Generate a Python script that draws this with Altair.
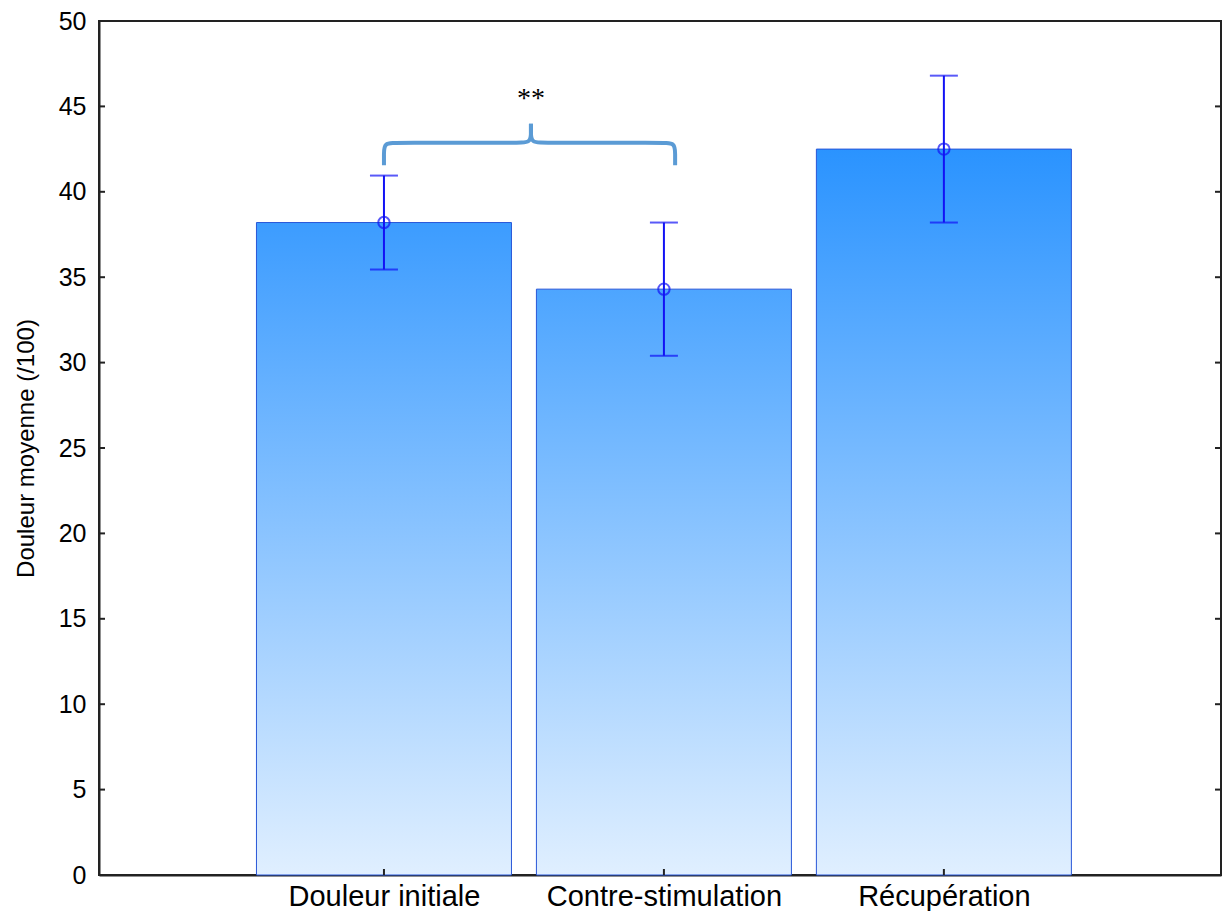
import altair as alt
import pandas as pd

categories = ["Douleur initiale", "Contre-stimulation", "Récupération"]
positions = [1, 2, 3]
means = [38.2, 34.3, 42.5]
lower = [35.45, 30.4, 38.2]
upper = [40.95, 38.2, 46.8]
y_ticks = list(range(0, 51, 5))

# brace annotation (data units): left half and right half control points
brace_left_x = [1.0, 1.0, 1.0, 1.045, 1.475, 1.525, 1.525, 1.525]
brace_right_x = [2.04, 2.04, 2.04, 1.995, 1.575, 1.525, 1.525, 1.525]
brace_y = [41.55, 42.2, 42.87, 42.87, 42.87, 42.87, 43.5, 43.98]
signif_label = "**"

df = pd.DataFrame({"cat": categories, "pos": positions, "mean": means,
                   "lo": lower, "hi": upper})
ticks_df = pd.DataFrame({"t": y_ticks})
brace_df = pd.DataFrame({
    "x": brace_left_x + brace_right_x,
    "y": brace_y + brace_y,
    "half": ["L"] * len(brace_y) + ["R"] * len(brace_y),
    "ord": list(range(len(brace_y))) * 2,
})

W, H = 1122, 854
xs = alt.Scale(domain=[0, 3.972], nice=False, zero=False)
ys = alt.Scale(domain=[0, 50], nice=False)

label_arr = "[" + ",".join("'" + c + "'" for c in categories) + "]"
x_axis = alt.Axis(values=positions, labelExpr=label_arr + "[datum.value-1]",
                  ticks=False, grid=False, title=None, labelFontSize=29,
                  labelFont="Liberation Sans", labelColor="#000",
                  labelPadding=7, domainColor="#222", domainWidth=2,
                  labelFlush=False, labelLimit=0, labelOverlap=False)
y_axis = alt.Axis(values=y_ticks, ticks=False, grid=False,
                  title="Douleur moyenne (/100)", titleFontSize=24,
                  titleFont="Liberation Sans", titleFontWeight="normal",
                  titleColor="#000", titlePadding=20,
                  labelFontSize=25, labelFont="Liberation Sans",
                  labelColor="#000", labelPadding=13, labelLimit=0,
                  labelFlush=False,
                  domainColor="#222", domainWidth=2)


def X(f):
    return alt.X(f, scale=xs, axis=x_axis)


def Y(f):
    return alt.Y(f, scale=ys, axis=y_axis)


bottom_rgb = (224, 239, 255)
top_rgb = (42, 147, 255)
vmax = max(means)


def col_at(v):
    f = v / vmax
    c = [round(b + (t - b) * f) for b, t in zip(bottom_rgb, top_rgb)]
    return "#%02x%02x%02x" % tuple(c)


layers = []
for p, m in zip(positions, means):
    grad = alt.LinearGradient(
        gradient="linear", x1=0, y1=0, x2=0, y2=1,
        stops=[alt.GradientStop(offset=0, color=col_at(m)),
               alt.GradientStop(offset=1, color=col_at(0))])
    bar = alt.Chart(df).transform_filter(alt.datum.pos == p).mark_bar(
        size=255, fill=grad, stroke="#2856d8", strokeWidth=1
    ).encode(x=X("pos:Q"), y=Y("mean:Q"))
    layers.append(bar)

err_color = "#1212f5"
err = alt.Chart(df).mark_rule(color=err_color, strokeWidth=2).encode(
    x=X("pos:Q"), y=Y("lo:Q"), y2="hi:Q")
cap_lo = alt.Chart(df).mark_tick(color=err_color, orient="horizontal",
                                 size=28, thickness=2).encode(
    x=X("pos:Q"), y=Y("lo:Q"))
cap_hi = alt.Chart(df).mark_tick(color=err_color, orient="horizontal",
                                 size=28, thickness=2).encode(
    x=X("pos:Q"), y=Y("hi:Q"))
pts = alt.Chart(df).mark_point(shape="circle", filled=False, size=130,
                               strokeWidth=2, color=err_color).encode(
    x=X("pos:Q"), y=Y("mean:Q"))

brace = alt.Chart(brace_df).mark_line(
    interpolate="basis", color="#5b9bd5", strokeWidth=4, clip=False
).encode(x=X("x:Q"), y=Y("y:Q"), detail="half:N", order="ord:Q")

star = alt.Chart(pd.DataFrame({"x": [1.525], "y": [45.45], "t": [signif_label]})).mark_text(
    font="Liberation Serif", fontSize=28, color="#000", baseline="middle"
).encode(x=X("x:Q"), y=Y("y:Q"), text="t:N")

tl = alt.Chart(ticks_df).mark_rule(color="#222", strokeWidth=2).encode(
    y=Y("t:Q"), x=alt.value(0), x2=alt.value(6))
tr = alt.Chart(ticks_df).mark_rule(color="#222", strokeWidth=2).encode(
    y=Y("t:Q"), x=alt.value(W), x2=alt.value(W - 6))
tx = alt.Chart(df).mark_rule(color="#222", strokeWidth=2).encode(
    x=X("pos:Q"), y=alt.value(H), y2=alt.value(H - 6))

chart = alt.layer(*layers, tl, tr, tx, err, cap_lo, cap_hi, pts, brace, star).properties(
    width=W, height=H,
    autosize=alt.AutoSizeParams(type="none"),
    padding={"left": 91, "top": 13, "right": 2, "bottom": 36},
    background="white",
).configure_view(stroke="#222", strokeWidth=2)

chart.save("out.html", embed_options={"renderer": "svg", "actions": False})
